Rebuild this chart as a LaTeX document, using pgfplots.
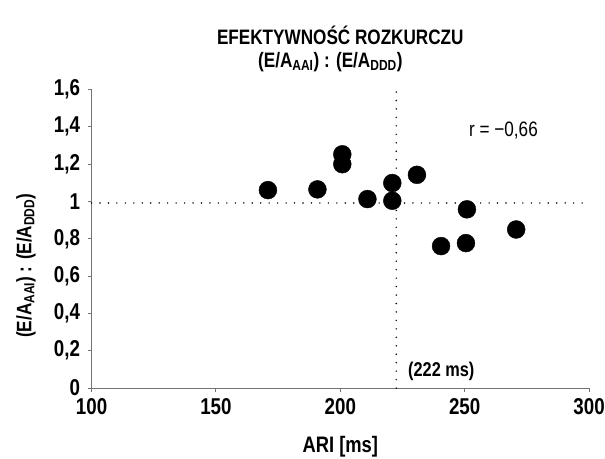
\documentclass[border=0pt]{standalone}
\usepackage{pgfplots}
\pgfplotsset{compat=1.18}
\usepackage{fontspec}
\setmainfont{Liberation Sans}[FakeStretch=0.82]
\definecolor{axgray}{gray}{0.45}
\begin{document}
\begin{tikzpicture}
\begin{axis}[
  scale only axis, width=500pt, height=300pt,
  xmin=100, xmax=300, ymin=0, ymax=1.6,
  axis lines=left,
  axis line style={-, axgray, line width=0.9pt},
  xtick={100,150,200,250,300},
  ytick={0,0.2,0.4,0.6,0.8,1,1.2,1.4,1.6},
  tick align=outside, major tick length=4pt,
  tick style={axgray, line width=0.9pt},
  /pgf/number format/assume math mode=true,
  /pgf/number format/use comma,
  ticklabel style={font=\fontsize{23}{25}\selectfont\bfseries},
  x tick label style={yshift=-3pt},
  y tick label style={xshift=-4pt},
  clip=false,
]
\addplot[black, line width=1.6pt, line cap=round, dash pattern=on 0pt off 8.5pt] coordinates {(100,0.992) (300,0.992)};
\addplot[black, line width=1.6pt, line cap=round, dash pattern=on 0pt off 8.5pt] coordinates {(222.5,0) (222.5,1.6)};
\addplot[only marks, mark=*, mark size=9pt, mark options={fill=black, draw=black}] coordinates {
(170.9,1.061) (190.8,1.065) (200.8,1.253) (200.8,1.200) (210.9,1.013)
(220.9,1.099) (220.9,1.004) (230.8,1.143) (250.9,0.958) (270.7,0.850)
(240.5,0.761) (250.5,0.777)};
\node[font=\fontsize{21}{24}\selectfont] at (axis cs:265.6,1.381) {r = −0,66};
\node[font=\fontsize{20}{22}\selectfont\bfseries] at (axis cs:240.6,0.091) {(222 ms)};
\node[font=\fontsize{21}{24}\selectfont\bfseries] at ([yshift=54.5pt]rel axis cs:0.5,1) {EFEKTYWNOŚĆ ROZKURCZU};
\node[font=\fontsize{21}{24}\selectfont\bfseries] at ([yshift=28pt, xshift=-10pt]rel axis cs:0.5,1) {(E/A\textsubscript{AAI}) : (E/A\textsubscript{DDD})};
\node[font=\fontsize{22.5}{25}\selectfont\bfseries] at ([yshift=-59pt]rel axis cs:0.5,0) {ARI [ms]};
\node[font=\fontsize{21}{24}\selectfont\bfseries, rotate=90] at ([xshift=-66pt]rel axis cs:0,0.41) {(E/A\textsubscript{AAI}) : (E/A\textsubscript{DDD})};
\end{axis}
\pgfresetboundingbox
\path ([shift={(-92pt,-71pt)}]current axis.south west) rectangle ([shift={(16pt,90pt)}]current axis.north east);
\end{tikzpicture}
\end{document}
